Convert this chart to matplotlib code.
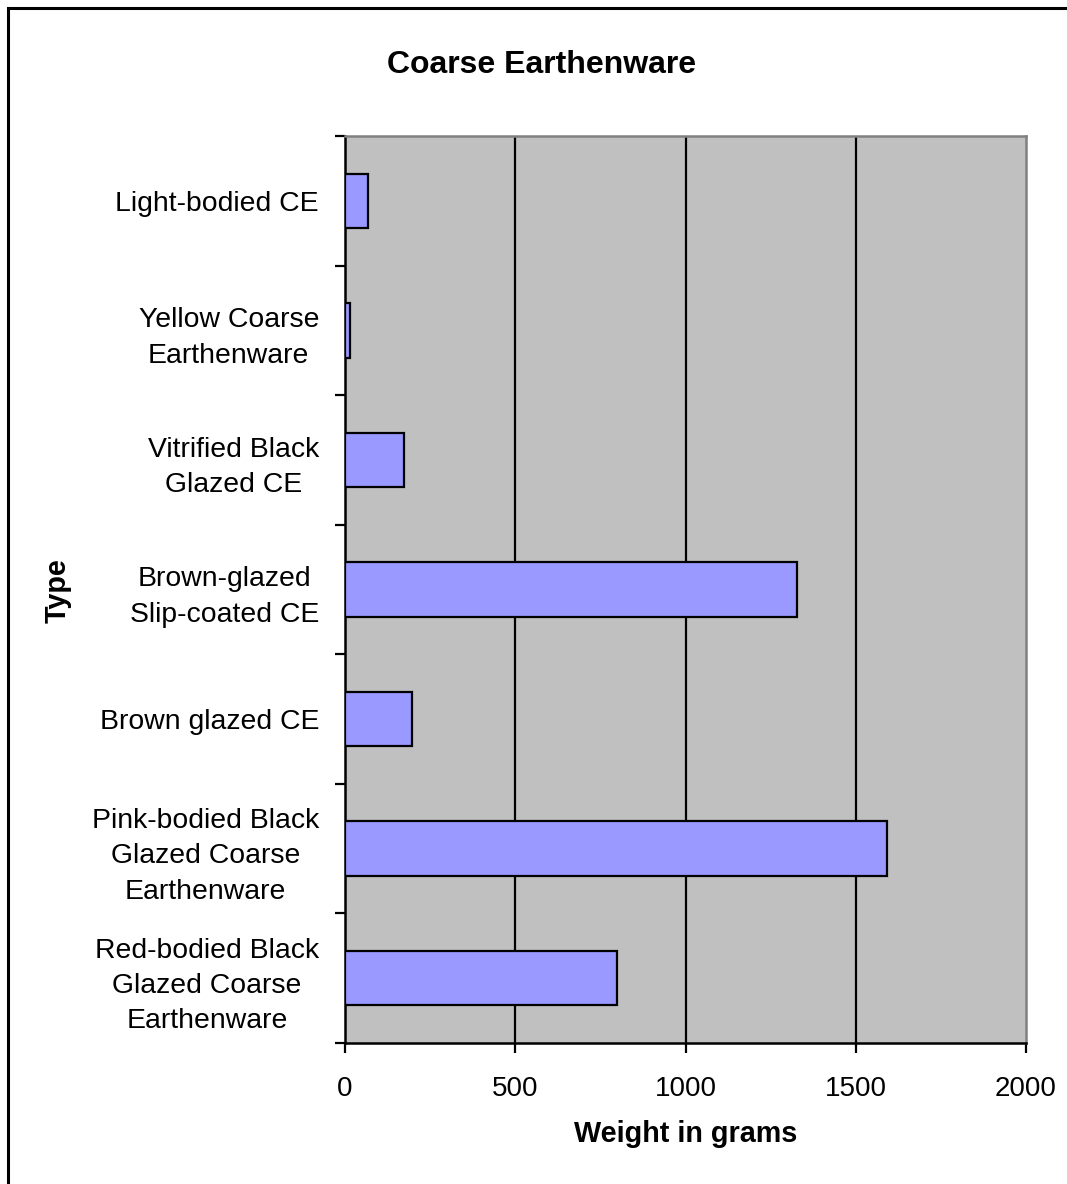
import matplotlib
matplotlib.use("Agg")
import matplotlib.pyplot as plt
from matplotlib.patches import Rectangle
from matplotlib.ticker import FixedLocator, NullFormatter

plt.rcParams['font.family'] = ['Liberation Sans', 'DejaVu Sans']

categories = [
    "Light-bodied CE",
    "Yellow Coarse\nEarthenware",
    "Vitrified Black\nGlazed CE",
    "Brown-glazed\nSlip-coated CE",
    "Brown glazed CE",
    "Pink-bodied Black\nGlazed Coarse\nEarthenware",
    "Red-bodied Black\nGlazed Coarse\nEarthenware",
]
weights = [67, 14, 172, 1328, 196, 1592, 800]
x_ticks = [0, 500, 1000, 1500, 2000]

W, H = 1067, 1184
fig = plt.figure(figsize=(W / 100, H / 100), dpi=100)
fig.patch.set_facecolor("white")

# outer chart frame
fig.patches.append(Rectangle((8 / W, -0.05), 1.1, 1 - 8 / H + 0.05,
                             transform=fig.transFigure, fill=False,
                             edgecolor="black", linewidth=2.2, zorder=0))

left, right = 345 / W, 1026 / W
top, bottom = 1 - 136 / H, 1 - 1043 / H
ax = fig.add_axes([left, bottom, right - left, top - bottom])
ax.set_facecolor("#C0C0C0")

pos = list(range(len(categories)))
ax.barh(pos, weights, height=0.42, color="#9999FF", edgecolor="black",
        linewidth=1.6, zorder=3)

ax.set_xlim(0, 2000)
ax.set_ylim(len(categories) - 0.5, -0.5)

ax.set_xticks(x_ticks)
ax.set_xticklabels([str(v) for v in x_ticks], fontsize=20)
for v in x_ticks[1:-1]:
    ax.axvline(v, color="black", linewidth=1.6, zorder=1)

# category labels at bar centres, tick marks at category boundaries
ax.set_yticks(pos)
ax.set_yticklabels(categories, fontsize=20.4, ha="right", multialignment="center")
ax.tick_params(axis="y", which="major", length=0, pad=18.7)
ax.yaxis.set_minor_locator(FixedLocator([p - 0.5 for p in pos] + [len(pos) - 0.5]))
ax.yaxis.set_minor_formatter(NullFormatter())
ax.tick_params(axis="y", which="minor", length=7.2, width=1.6, color="black")
ax.tick_params(axis="x", which="major", length=7.2, width=1.6, color="black", pad=16.5)

for lbl in ax.get_yticklabels():
    lbl.set_linespacing(1.47)

ax.spines["left"].set_color("black")
ax.spines["left"].set_linewidth(1.8)
ax.spines["bottom"].set_color("black")
ax.spines["bottom"].set_linewidth(1.8)
ax.spines["top"].set_color("#808080")
ax.spines["top"].set_linewidth(1.8)
ax.spines["right"].set_color("#808080")
ax.spines["right"].set_linewidth(1.8)

fig.text(542 / W, 1 - 73 / H, "Coarse Earthenware", fontsize=23,
         fontweight="bold", ha="center", va="baseline")
fig.text((left + right) / 2, 1 - 1142 / H, "Weight in grams", fontsize=20.7,
         fontweight="bold", ha="center", va="baseline")
fig.text(58 / W, 1 - 591 / H, "Type", fontsize=20.7, fontweight="bold",
         rotation=90, ha="center", va="center")

fig.savefig("out.png", dpi=100)
